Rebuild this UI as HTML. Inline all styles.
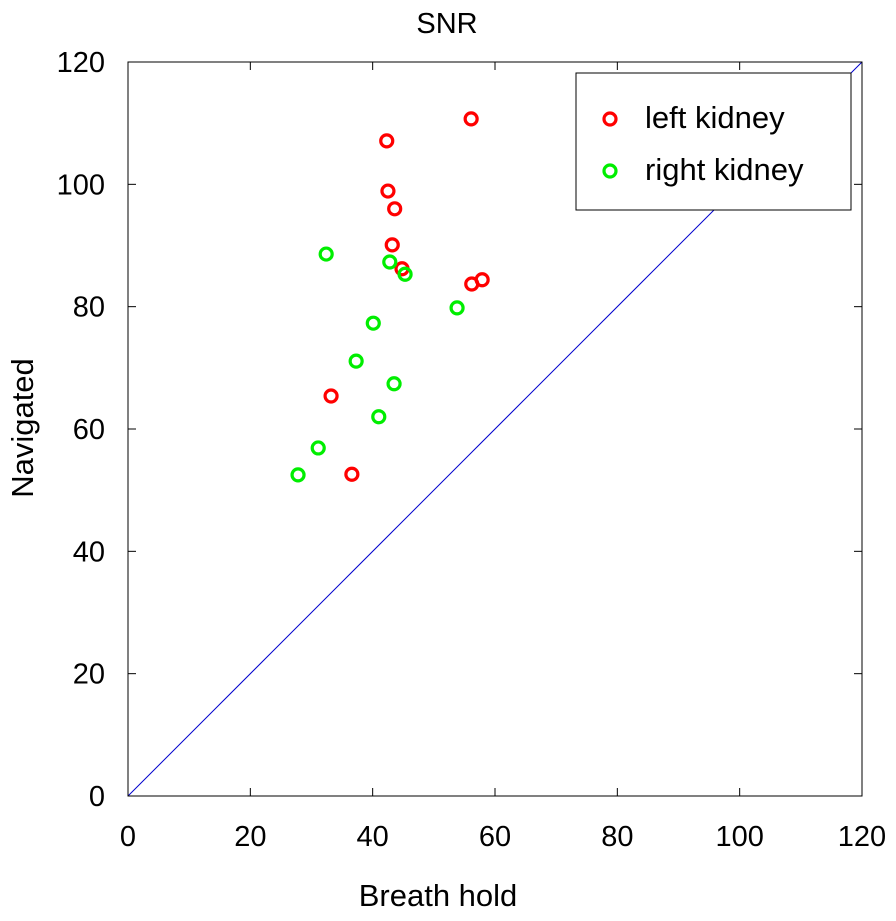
<!DOCTYPE html>
<html><head><meta charset="utf-8"><style>
body{margin:0;background:#fff}
svg text{font-family:"Liberation Sans",sans-serif;fill:#000}
</style></head><body>
<svg id="chart" width="896" height="916" xmlns="http://www.w3.org/2000/svg">
<rect width="896" height="916" fill="#fff"/>
<g id="plot"></g>
</svg>
<script>
const xTicks=[0,20,40,60,80,100,120];
const yTicks=[0,20,40,60,80,100,120];
const leftX=[42.3,42.5,43.6,43.2,44.8,56.2,57.9,33.2,36.6,56.1];
const leftY=[107.1,98.9,96.0,90.1,86.2,83.7,84.4,65.4,52.6,110.7];
const rightX=[32.4,42.8,45.3,53.8,40.1,37.3,43.5,41.0,31.1,27.8];
const rightY=[88.6,87.3,85.3,79.8,77.3,71.1,67.4,62.0,56.9,52.5];
const X0=128,X1=862,Y0=796,Y1=62;
const sx=v=>X0+(v/120)*(X1-X0);
const sy=v=>Y0-(v/120)*(Y0-Y1);
const NS="http://www.w3.org/2000/svg";
const g=document.getElementById('plot');
function mk(t,a,p){const e=document.createElementNS(NS,t);for(const k in a)e.setAttribute(k,a[k]);(p||g).appendChild(e);return e;}
const box=mk('rect',{x:X0,y:Y1,width:X1-X0,height:Y0-Y1,fill:'none',stroke:'#000','stroke-width':1});


const diag=mk('line',{x1:sx(0),y1:sy(0),x2:sx(120),y2:sy(120),stroke:'#0000cc','stroke-width':1});


xTicks.forEach(v=>{
  mk('line',{x1:sx(v),y1:Y0,x2:sx(v),y2:Y0-8,stroke:'#000'});
  mk('line',{x1:sx(v),y1:Y1,x2:sx(v),y2:Y1+8,stroke:'#000'});
  const t=mk('text',{x:sx(v),y:Y0+50,'text-anchor':'middle','font-size':29});
  t.textContent=v;
  
  
});
yTicks.forEach(v=>{
  mk('line',{x1:X0,y1:sy(v),x2:X0+8,y2:sy(v),stroke:'#000'});
  mk('line',{x1:X1,y1:sy(v),x2:X1-8,y2:sy(v),stroke:'#000'});
  const t=mk('text',{x:X0-23,y:sy(v)+10,'text-anchor':'end','font-size':29});
  t.textContent=v;
  
  
});
function pts(xs,ys,col,name){
  xs.forEach((x,i)=>{
    const c=mk('circle',{cx:sx(x),cy:sy(ys[i]),r:6,fill:'none',stroke:col,'stroke-width':3.2});
    
    
  });
}
pts(leftX,leftY,'#ff0000','left-kidney-point');
pts(rightX,rightY,'#00ee00','right-kidney-point');
const lg=mk('rect',{x:576,y:73,width:275,height:137,fill:'#fff',stroke:'#000'});


mk('circle',{cx:610,cy:119,r:6,fill:'none',stroke:'#ff0000','stroke-width':3.2});
mk('circle',{cx:610,cy:171,r:6,fill:'none',stroke:'#00ee00','stroke-width':3.2});
const l1=mk('text',{x:645,y:128,'font-size':31});l1.textContent='left kidney';


const l2=mk('text',{x:645,y:180,'font-size':31});l2.textContent='right kidney';


const ti=mk('text',{x:447,y:33,'text-anchor':'middle','font-size':29});ti.textContent='SNR';


const xl=mk('text',{x:438,y:906,'text-anchor':'middle','font-size':31});xl.textContent='Breath hold';


const yl=mk('text',{x:0,y:0,'text-anchor':'middle','font-size':31,transform:'translate(33,428) rotate(-90)'});yl.textContent='Navigated';


</script>
</body></html>
